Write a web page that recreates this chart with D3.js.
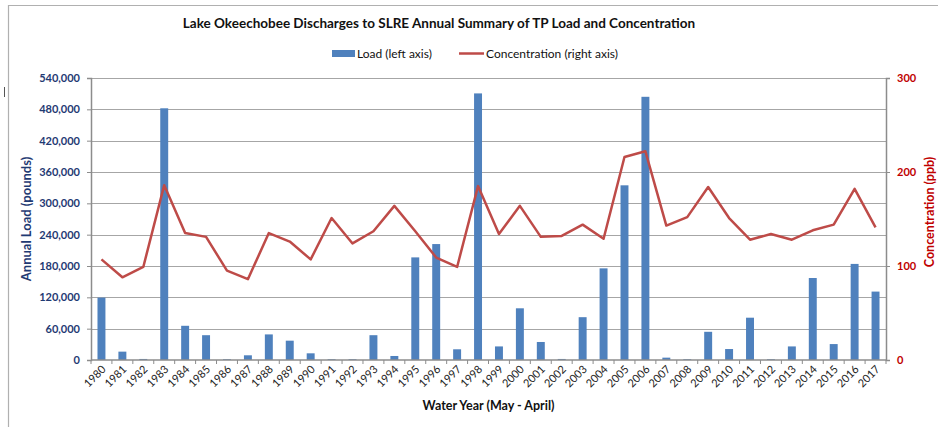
<!DOCTYPE html>
<html>
<head>
<meta charset="utf-8">
<script src="https://cdn.jsdelivr.net/npm/d3@7"></script>
<style>
  body { margin: 0; background: #fff; }
  text { font-family: Lato, "Open Sans", sans-serif; }
</style>
</head>
<body>
<div id="chart"></div>
<script>
// data
var years = ["1980","1981","1982","1983","1984","1985","1986","1987","1988","1989",
    "1990","1991","1992","1993","1994","1995","1996","1997","1998","1999",
    "2000","2001","2002","2003","2004","2005","2006","2007","2008","2009",
    "2010","2011","2012","2013","2014","2015","2016","2017"];

var load = [119500, 16000, 2000, 482000, 65500, 47500, 1500, 9000, 49000, 37000,
    12800, 1500, 1500, 47500, 7700, 196500, 222000, 20500, 510500, 26000,
    99000, 34500, 2000, 82000, 175500, 334500, 504000, 4500, 1500, 54000,
    21000, 81000, 1500, 26000, 157000, 30500, 184000, 131000];

var conc = [107, 88, 99, 186, 135, 131, 95, 86, 135, 126,
    107, 151, 124, 137, 164, 137, 109, 99, 185, 134,
    164, 131, 132, 144, 129, 216, 222, 143, 152, 184,
    151, 128, 134, 128, 138, 144, 182, 141];

var loadTicks = [0, 60000, 120000, 180000, 240000, 300000, 360000, 420000, 480000, 540000];
var concTicks = [0, 100, 200, 300];

var svgWidth = 938;
var svgHeight = 427;

var chartMargin = {
    top: 78,
    right: 52,
    bottom: 67,
    left: 91
};

var chartWidth = svgWidth - chartMargin.left - chartMargin.right;
var chartHeight = svgHeight - chartMargin.top - chartMargin.bottom;

var svg = d3.select("#chart")
    .append("svg")
    .attr("width", svgWidth)
    .attr("height", svgHeight);

// outer chart border (cropped on right/bottom)
svg.append("path")
    .attr("d", "M8.5,427 V5.5 H938")
    .attr("fill", "none")
    .attr("stroke", "#b0b0b0")
    .attr("stroke-width", 1.2);

svg.append("line")
    .attr("x1", 4.5).attr("x2", 4.5)
    .attr("y1", 87).attr("y2", 97)
    .attr("stroke", "#555");

var chartGroup = svg.append("g")
    .attr("transform", `translate(${chartMargin.left},${chartMargin.top})`);

var xScale = d3.scaleBand()
    .domain(years)
    .range([0, chartWidth])
    .paddingInner(0.62)
    .paddingOuter(0.31);

var xEdge = d3.scaleLinear()
    .domain([0, years.length])
    .range([0, chartWidth]);

var yLeft = d3.scaleLinear()
    .domain([0, 540000])
    .range([chartHeight, 0]);

var yRight = d3.scaleLinear()
    .domain([0, 300])
    .range([chartHeight, 0]);

// gridlines
chartGroup.append("g")
    .selectAll("line")
    .data(loadTicks.slice(1))
    .enter()
    .append("line")
    .attr("x1", 0)
    .attr("x2", chartWidth)
    .attr("y1", d => Math.round(yLeft(d)) + 0.5)
    .attr("y2", d => Math.round(yLeft(d)) + 0.5)
    .attr("stroke", "#a6a6a6")
    .attr("stroke-width", 1);

// bars
chartGroup.append("g")
    .selectAll("rect")
    .data(load)
    .enter()
    .append("rect")
    .attr("x", (d, i) => xScale(years[i]))
    .attr("y", d => yLeft(d))
    .attr("width", xScale.bandwidth())
    .attr("height", d => chartHeight - yLeft(d))
    .attr("fill", "#4f81bd");

// concentration line
var line = d3.line()
    .x((d, i) => xScale(years[i]) + xScale.bandwidth() / 2)
    .y(d => yRight(d));

chartGroup.append("path")
    .datum(conc)
    .attr("d", line)
    .attr("fill", "none")
    .attr("stroke", "#be4b48")
    .attr("stroke-width", 2.5)
    .attr("stroke-linejoin", "round");

// left axis
var leftAxis = d3.axisLeft(yLeft)
    .tickValues(loadTicks)
    .tickSize(4)
    .tickPadding(7)
    .tickFormat(d3.format(","));

var gLeft = chartGroup.append("g").call(leftAxis);
gLeft.select(".domain").attr("stroke", "#8c8c8c").attr("stroke-width", 1.5);
gLeft.selectAll(".tick line").attr("stroke", "#8c8c8c");
gLeft.selectAll("text")
    .attr("font-family", "Lato, sans-serif")
    .attr("font-size", 11)
    .attr("font-weight", "bold")
    .attr("fill", "#1f3a73");

// right axis
var rightAxis = d3.axisRight(yRight)
    .tickValues(concTicks)
    .tickSize(4)
    .tickPadding(7);

var gRight = chartGroup.append("g")
    .attr("transform", `translate(${chartWidth},0)`)
    .call(rightAxis);
gRight.select(".domain").attr("stroke", "#8c8c8c").attr("stroke-width", 1.5);
gRight.selectAll(".tick line").attr("stroke", "#8c8c8c");
gRight.selectAll("text")
    .attr("font-family", "Lato, sans-serif")
    .attr("font-size", 11)
    .attr("font-weight", "bold")
    .attr("fill", "#c00000");

// bottom axis
var gBottom = chartGroup.append("g")
    .attr("transform", `translate(0,${chartHeight})`);

gBottom.append("line")
    .attr("x1", 0).attr("x2", chartWidth)
    .attr("y1", 0).attr("y2", 0)
    .attr("stroke", "#8c8c8c")
    .attr("stroke-width", 1.5);

gBottom.selectAll(".xtick")
    .data(d3.range(years.length + 1))
    .enter()
    .append("line")
    .attr("x1", d => xEdge(d)).attr("x2", d => xEdge(d))
    .attr("y1", 0).attr("y2", 4)
    .attr("stroke", "#8c8c8c");

gBottom.selectAll(".xlabel")
    .data(years)
    .enter()
    .append("text")
    .attr("transform", d => `translate(${xScale(d) + xScale.bandwidth() / 2 + 5},${10}) rotate(-45)`)
    .attr("text-anchor", "end")
    .attr("font-size", 11)
    .attr("fill", "#222")
    .text(d => d);

// axis titles
chartGroup.append("text")
    .text("Water Year (May - April)")
    .attr("x", chartWidth / 2)
    .attr("y", chartHeight + 50)
    .attr("text-anchor", "middle")
    .attr("font-size", 12.5)
    .attr("font-weight", "bold")
    .attr("fill", "#111");

svg.append("text")
    .text("Annual Load (pounds)")
    .attr("transform", `translate(31,${chartMargin.top + chartHeight / 2}) rotate(-90)`)
    .attr("text-anchor", "middle")
    .attr("font-size", 13)
    .attr("font-weight", "bold")
    .attr("fill", "#1f3a73");

svg.append("text")
    .text("Concentration (ppb)")
    .attr("transform", `translate(934,${chartMargin.top + chartHeight / 2 - 7}) rotate(-90)`)
    .attr("text-anchor", "middle")
    .attr("font-size", 12.5)
    .attr("font-weight", "bold")
    .attr("fill", "#c00000");

// title
svg.append("text")
    .text("Lake Okeechobee Discharges to SLRE Annual Summary of TP Load and Concentration")
    .attr("x", 439)
    .attr("y", 28)
    .attr("text-anchor", "middle")
    .attr("font-size", 13.5)
    .attr("font-weight", "bold")
    .attr("fill", "#111");

// legend
var legend = svg.append("g");
legend.append("rect")
    .attr("x", 332).attr("y", 50)
    .attr("width", 23).attr("height", 7)
    .attr("fill", "#4f81bd");
legend.append("text")
    .text("Load (left axis)")
    .attr("x", 357).attr("y", 58)
    .attr("font-size", 12)
    .attr("fill", "#111");
legend.append("line")
    .attr("x1", 459).attr("x2", 484)
    .attr("y1", 53.5).attr("y2", 53.5)
    .attr("stroke", "#be4b48")
    .attr("stroke-width", 2.5);
legend.append("text")
    .text("Concentration (right axis)")
    .attr("x", 486).attr("y", 58)
    .attr("font-size", 12)
    .attr("fill", "#111");
</script>
</body>
</html>
